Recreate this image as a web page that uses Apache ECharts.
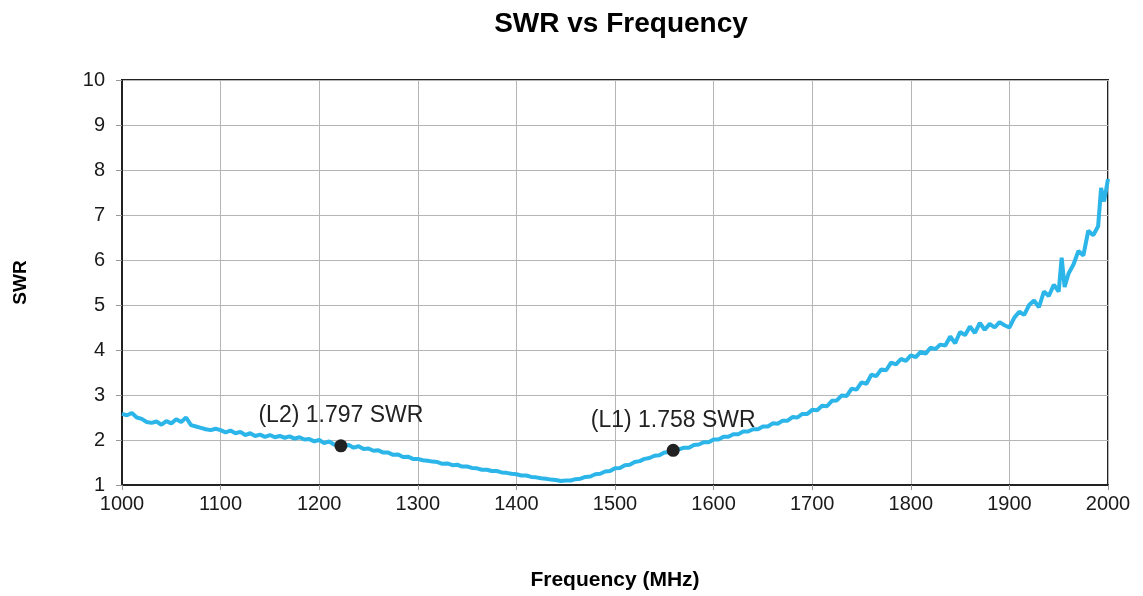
<!DOCTYPE html>
<html>
<head>
<meta charset="utf-8">
<script src="https://cdn.jsdelivr.net/npm/echarts@6/dist/echarts.min.js"></script>
<style>html,body{margin:0;padding:0;background:#fff;}#c{width:1143px;height:596px;}</style>
</head>
<body>
<div id="c"></div>
<script>
const freq = [1000,1005,1010,1015,1020,1025,1030,1035,1040,1045,1050,1055,1060,1065,1070,1075,1080,1085,1090,1095,
1100,1105,1110,1115,1120,1125,1130,1135,1140,1145,1150,1155,1160,1165,1170,1175,1180,1185,1190,1195,
1200,1205,1210,1215,1220,1225,1230,1235,1240,1245,1250,1255,1260,1265,1270,1275,1280,1285,1290,1295,
1300,1305,1310,1315,1320,1325,1330,1335,1340,1345,1350,1355,1360,1365,1370,1375,1380,1385,1390,1395,
1400,1405,1410,1415,1420,1425,1430,1435,1440,1445,1450,1455,1460,1465,1470,1475,1480,1485,1490,1495,
1500,1505,1510,1515,1520,1525,1530,1535,1540,1545,1550,1555,1560,1565,1570,1575,1580,1585,1590,1595,
1600,1605,1610,1615,1620,1625,1630,1635,1640,1645,1650,1655,1660,1665,1670,1675,1680,1685,1690,1695,
1700,1705,1710,1715,1720,1725,1730,1735,1740,1745,1750,1755,1760,1765,1770,1775,1780,1785,1790,1795,
1800,1805,1810,1815,1820,1825,1830,1835,1840,1845,1850,1855,1860,1865,1870,1875,1880,1885,1890,1895,
1900,1905,1910,1915,1920,1925,1930,1935,1940,1945,1950,1953,1956,1960,1965,1970,1975,1980,1985,1990,1993,1996,2000];
const swr = [2.58,2.55,2.60,2.50,2.47,2.40,2.38,2.41,2.34,2.42,2.37,2.46,2.40,2.50,2.33,2.30,2.27,2.24,2.22,2.25,
2.22,2.17,2.21,2.15,2.18,2.11,2.15,2.09,2.12,2.07,2.11,2.06,2.09,2.05,2.08,2.03,2.06,2.01,2.02,1.97,
2.00,1.93,1.97,1.90,1.90,1.86,1.89,1.83,1.86,1.80,1.81,1.76,1.77,1.72,1.72,1.67,1.68,1.62,1.63,1.58,
1.58,1.55,1.54,1.52,1.51,1.47,1.48,1.44,1.45,1.41,1.41,1.38,1.37,1.34,1.34,1.31,1.31,1.28,1.27,1.25,
1.24,1.21,1.21,1.18,1.17,1.15,1.14,1.12,1.11,1.09,1.10,1.10,1.13,1.14,1.18,1.19,1.24,1.25,1.30,1.31,
1.37,1.38,1.44,1.45,1.51,1.53,1.58,1.60,1.65,1.66,1.72,1.73,1.78,1.79,1.83,1.83,1.89,1.90,1.95,1.95,
2.01,2.01,2.07,2.07,2.13,2.13,2.19,2.19,2.24,2.24,2.30,2.30,2.37,2.36,2.43,2.43,2.51,2.50,2.58,2.58,
2.67,2.66,2.76,2.75,2.87,2.88,2.99,2.98,3.14,3.12,3.28,3.25,3.45,3.42,3.57,3.55,3.72,3.68,3.80,3.76,
3.88,3.84,3.96,3.92,4.05,4.02,4.12,4.10,4.30,4.15,4.40,4.33,4.52,4.38,4.60,4.45,4.58,4.50,4.62,4.55,
4.50,4.72,4.85,4.78,5.00,5.10,4.95,5.30,5.20,5.45,5.30,6.05,5.40,5.70,5.90,6.20,6.10,6.65,6.55,6.75,7.60,7.30,7.80];
const markerFreq = [1222, 1559];
const markerSwr = [1.87, 1.77];
const markerText = ['(L2) 1.797 SWR', '(L1) 1.758 SWR'];
const xTicks = [1000,1100,1200,1300,1400,1500,1600,1700,1800,1900,2000];

const chart = echarts.init(document.getElementById('c'));
const font = 'Liberation Sans, Arial, sans-serif';
chart.setOption({
  animation: false,
  title: {text: 'SWR vs Frequency', left: 616, textAlign: 'center', top: 5,
    textStyle: {fontFamily: font, fontSize: 28, fontWeight: 'bold', color: '#000'}},
  grid: {left: 122, right: 35, top: 80, bottom: 108, show: true, borderColor: '#222', borderWidth: 2, backgroundColor: 'transparent'},
  xAxis: {type: 'value', min: xTicks[0], max: xTicks[xTicks.length-1], interval: 100,
    name: 'Frequency (MHz)', nameLocation: 'middle', nameGap: 85,
    nameTextStyle: {fontFamily: font, fontSize: 21, fontWeight: 'bold', color: '#000'},
    axisLine: {show: true, lineStyle: {color: '#222', width: 2}},
    axisTick: {show: true, length: 5, lineStyle: {color: '#999'}},
    axisLabel: {fontFamily: font, fontSize: 20, color: '#1a1a1a', margin: 9, formatter: v => String(v)},
    splitLine: {show: true, lineStyle: {color: '#b5b5b5', width: 1}}},
  yAxis: {type: 'value', min: 1, max: 10, interval: 1,
    name: 'SWR', nameLocation: 'middle', nameGap: 92, nameRotate: 90,
    nameTextStyle: {fontFamily: font, fontSize: 19, fontWeight: 'bold', color: '#000'},
    axisLine: {show: true, lineStyle: {color: '#222', width: 2}},
    axisTick: {show: true, length: 6, lineStyle: {color: '#999'}},
    axisLabel: {fontFamily: font, fontSize: 20, color: '#1a1a1a', margin: 17},
    splitLine: {show: true, lineStyle: {color: '#b5b5b5', width: 1}}},
  series: [
    {type: 'line', data: freq.map((f, i) => [f, swr[i]]), showSymbol: false, symbol: 'none',
      lineStyle: {color: '#2bb5e8', width: 4}, z: 3},
    {type: 'scatter', data: markerFreq.map((f, i) => [f, markerSwr[i]]), symbolSize: 13,
      itemStyle: {color: '#222', opacity: 1}, z: 5,
      label: {show: true, position: 'top', distance: 12, fontFamily: font, fontSize: 23, color: '#222',
        formatter: p => markerText[p.dataIndex]}}
  ]
});
</script>
</body>
</html>
